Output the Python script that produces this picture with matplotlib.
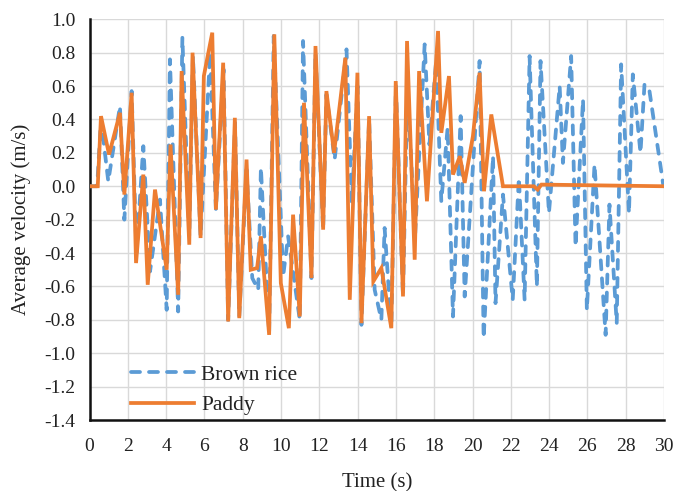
import matplotlib
matplotlib.use("Agg")
import matplotlib.pyplot as plt

plt.rcParams['font.family'] = ['Liberation Serif', 'DejaVu Serif']
plt.rcParams['axes.unicode_minus'] = False

# Brown rice (blue dashed)
brown_t = [0, 0.4, 0.6, 0.98, 1.59, 1.82, 2.2, 2.45, 2.81, 3.16, 3.68, 4.03, 4.2, 4.63, 4.85,
           5.21, 5.4, 5.8, 6.3, 6.6, 7.0, 7.24, 7.6, 7.82, 8.2, 8.5, 8.81, 8.95, 9.38, 9.62,
           10.11, 10.37, 10.98, 11.15, 11.59, 11.8, 12.2, 12.37, 12.8, 13.42, 13.7, 14.0, 14.2,
           14.6, 14.89, 15.24, 15.41, 15.76, 16.0, 16.37, 16.6, 17.0, 17.5, 17.75, 18.1, 18.37,
           18.7, 18.98, 19.38, 19.59, 20.37, 20.58, 21.07, 21.2, 21.59, 22.1, 22.42, 22.72,
           22.98, 23.36, 23.55, 23.99, 24.55, 24.72, 25.15, 25.38, 25.77, 25.97, 26.37, 26.95,
           27.15, 27.53, 27.76, 28.17, 28.37, 28.77, 28.98, 29.24, 29.97]
brown_v = [0, 0, 0.40, 0.03, 0.48, -0.20, 0.57, -0.40, 0.24, -0.51, -0.08, -0.74, 0.76, -0.75, 0.89,
           -0.30, 0.78, -0.30, 0.80, -0.14, 0.70, -0.80, 0.38, -0.78, 0.10, -0.55, -0.62, 0.11, -0.88, 0.90,
           -0.54, -0.30, -0.80, 0.87, -0.55, 0.80, -0.26, 0.55, 0.16, 0.82, -0.10, 0.60, -0.83,
           0.40, -0.62, -0.80, -0.25, -0.85, 0.60, -0.66, 0.60, -0.30, 0.85, 0.25, 0.75, -0.09,
           0.35, -0.78, 0.42, -0.66, 0.75, -0.91, 0.18, -0.70, -0.05, -0.68, 0.05, -0.68,
           0.78, -0.60, 0.75, -0.16, 0.60, 0.14, 0.78, -0.36, 0.52, -0.74, 0.13, -0.89,
           -0.11, -0.82, 0.73, -0.16, 0.67, 0.20, 0.61, 0.57, 0.0]

# Paddy (orange solid)
paddy_t = [0, 0.43, 0.6, 1.02, 1.59, 1.82, 2.2, 2.43, 2.81, 3.04, 3.42, 4.03, 4.23, 4.63, 4.81,
           5.21, 5.38, 5.8, 5.97, 6.41, 6.6, 6.98, 7.24, 7.59, 7.82, 8.2, 8.42, 8.75, 8.95, 9.38,
           9.65, 9.99, 10.41, 10.63, 10.98, 11.2, 11.59, 11.8, 12.2, 12.37, 12.77, 13.36, 13.59,
           13.99, 14.2, 14.6, 14.82, 15.24, 15.76, 15.99, 16.37, 16.58, 16.98, 17.21, 17.62,
           18.2, 18.37, 18.77, 18.98, 19.34, 19.59, 20.02, 20.37, 20.6, 20.98, 21.59, 23.2,
           23.4, 23.6, 30]
paddy_v = [0, 0, 0.42, 0.19, 0.44, -0.05, 0.56, -0.46, 0.07, -0.59, -0.02, -0.50, 0.25, -0.65, 0.69,
           -0.35, 0.80, -0.31, 0.66, 0.92, -0.14, 0.74, -0.81, 0.41, -0.79, 0.16, -0.50, -0.49, -0.30, -0.89,
           0.91, -0.58, -0.85, -0.17, -0.78, 0.50, -0.55, 0.84, -0.26, 0.57, 0.20, 0.77, -0.68,
           0.68, -0.82, 0.42, -0.57, -0.49, -0.85, 0.63, -0.66, 0.87, -0.44, 0.69, -0.09,
           0.93, 0.32, 0.66, 0.07, 0.18, 0.02, 0.30, 0.68, -0.03, 0.43, 0.0, 0.0,
           -0.02, 0.01, 0.0]

x_ticks = list(range(0, 31, 2))
y_ticks = [-1.4, -1.2, -1.0, -0.8, -0.6, -0.4, -0.2, 0.0, 0.2, 0.4, 0.6, 0.8, 1.0]

fig = plt.figure(figsize=(6.76, 4.91), dpi=100)
ax = fig.add_axes([0.1324, 0.1446, 0.8499, 0.8161])

ax.plot(brown_t, brown_v, color='#5B9BD5', lw=2.7, linestyle=(0, (2.4, 2.4)),
        dash_capstyle='round', label='Brown rice', zorder=3)
ax.plot(paddy_t, paddy_v, color='#ED7D31', lw=2.7, solid_joinstyle='miter',
        label='Paddy', zorder=4)

ax.set_xlim(0, 30)
ax.set_ylim(-1.4, 1.0)
ax.set_xticks(x_ticks)
ax.set_yticks(y_ticks)
ax.set_yticklabels([f"{v:.1f}" for v in y_ticks])
ax.tick_params(axis='both', length=0, labelsize=14, colors='#222222')
ax.tick_params(axis='x', pad=13)
ax.tick_params(axis='y', pad=10)
ax.grid(True, color='#D9D9D9', lw=1.0)
ax.set_axisbelow(True)
for s in ['top', 'right']:
    ax.spines[s].set_visible(False)
for s in ['left', 'bottom']:
    ax.spines[s].set_linewidth(1.8)
    ax.spines[s].set_color('#111111')

ax.set_xlabel('Time (s)', fontsize=15, color='#222222', labelpad=13)
ax.set_ylabel('Average velocity (m/s)', fontsize=15, color='#222222', labelpad=10)

leg = ax.legend(loc='upper left', bbox_to_anchor=(0.058, 0.16), frameon=False,
                fontsize=15.5, handlelength=2.9, handletextpad=0.35, labelspacing=0.5,
                borderaxespad=0)
for t in leg.get_texts():
    t.set_color('#222222')

fig.savefig('out.png', dpi=100)
